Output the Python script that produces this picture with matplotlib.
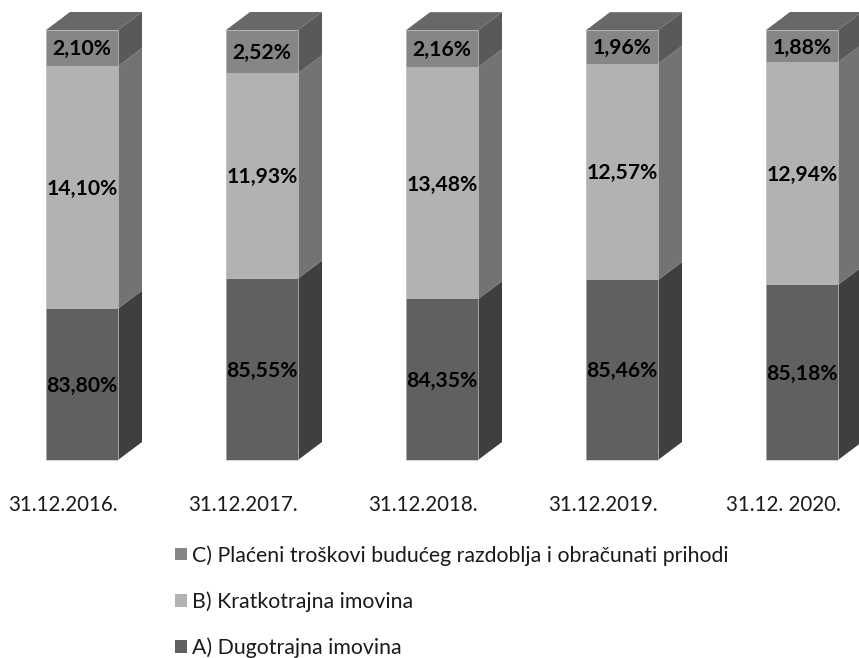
import matplotlib
matplotlib.use("Agg")
import matplotlib.pyplot as plt
from matplotlib.patches import Polygon, Patch
from matplotlib.transforms import ScaledTranslation

plt.rcParams["font.family"] = ["Lato", "DejaVu Sans"]

dates = ["31.12.2016.", "31.12.2017.", "31.12.2018.", "31.12.2019.", "31.12. 2020."]
dugotrajna = [83.80, 85.55, 84.35, 85.46, 85.18]
kratkotrajna = [14.10, 11.93, 13.48, 12.57, 12.94]
placeni = [2.10, 2.52, 2.16, 1.96, 1.88]
names = ["A) Dugotrajna imovina", "B) Kratkotrajna imovina",
         "C) Plaćeni troškovi budućeg razdoblja i obračunati prihodi"]
front_colors = ["#606060", "#b2b2b2", "#868686"]
side_colors = ["#3f3f3f", "#737373", "#595959"]
top_color = "#686868"

W, H = 859, 658
fig = plt.figure(figsize=(W / 100, H / 100), dpi=100)
# os je 75-100 kao u originalu, plot od y=30 do y=460 piksela
ax = fig.add_axes([0, (H - 460) / H, 1, 430 / H])
ax.set_ylim(75, 100)
ax.set_xlim(-82 / 180, (W - 82) / 180)

bar_w = 72 / 180
dx = 24 / 180  # dubina 3D
dy = 18 / (430 / 25)

for i in range(len(dates)):
    x0 = i - bar_w / 2
    x1 = i + bar_w / 2
    bottom = 75
    for values, fc, sc in zip([dugotrajna, kratkotrajna, placeni], front_colors, side_colors):
        v = values[i]
        y0 = max(bottom, 75)
        y1 = bottom + v if bottom > 75 else v
        # bocna strana
        ax.add_patch(Polygon([(x1, y0), (x1 + dx, y0 + dy), (x1 + dx, y1 + dy), (x1, y1)],
                             closed=True, fc=sc, ec="none", clip_on=False))
        # prednja strana
        ax.add_patch(Polygon([(x0, y0), (x1, y0), (x1, y1), (x0, y1)],
                             closed=True, fc=fc, ec="none", clip_on=False))
        ax.text(i, (y0 + y1) / 2 - 0.08, f"{v:.2f}%".replace(".", ","), ha="center", va="center",
                fontsize=15.2, fontweight="bold", color="black")
        bottom = y1
    # gornja strana
    ax.add_patch(Polygon([(x0, bottom), (x1, bottom), (x1 + dx, bottom + dy), (x0 + dx, bottom + dy)],
                         closed=True, fc=top_color, ec="none", clip_on=False))
    # svijetli rub
    ax.add_patch(Polygon([(x0, 75), (x1, 75), (x1, bottom), (x0, bottom)],
                         closed=True, fc="none", ec="#c8c8c8", lw=0.5, clip_on=False))

ax.set_xticks(range(len(dates)))
ax.set_xticklabels(dates, fontsize=14.8, color="#1a1a1a")
ax.tick_params(axis="x", length=0, pad=25.5)
# natpisi datuma su u originalu pomaknuti ulijevo
shift = ScaledTranslation(-19 / 100, 0, fig.dpi_scale_trans)
for t in ax.get_xticklabels():
    t.set_transform(t.get_transform() + shift)
ax.set_yticks([])
for s in ax.spines.values():
    s.set_visible(False)

handles = [Patch(fc=front_colors[k], ec="none") for k in [2, 1, 0]]
labels = [names[k] for k in [2, 1, 0]]
fig.legend(handles, labels, loc="upper left", bbox_to_anchor=(175 / W, 1 - 545 / H),
           frameon=False, fontsize=15.3, labelcolor="#1a1a1a", labelspacing=1.2,
           handlelength=0.55, handleheight=0.55, handletextpad=0.25, borderaxespad=0, borderpad=0)

fig.savefig("out.png", dpi=100)
